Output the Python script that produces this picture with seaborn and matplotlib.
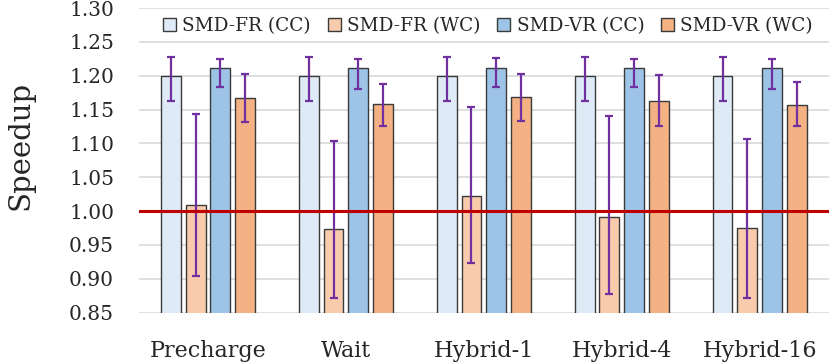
import matplotlib
matplotlib.use("Agg")
import matplotlib.pyplot as plt
import seaborn as sns
import pandas as pd
import numpy as np

categories = ["Precharge", "Wait", "Hybrid-1", "Hybrid-4", "Hybrid-16"]
series = ["SMD-FR (CC)", "SMD-FR (WC)", "SMD-VR (CC)", "SMD-VR (WC)"]

fr_cc = [1.200, 1.200, 1.200, 1.200, 1.200]
fr_wc = [1.009, 0.974, 1.023, 0.992, 0.975]
vr_cc = [1.212, 1.211, 1.212, 1.211, 1.211]
vr_wc = [1.167, 1.158, 1.169, 1.162, 1.157]

fr_cc_hi = [1.227, 1.227, 1.227, 1.227, 1.227]
fr_cc_lo = [1.162, 1.162, 1.162, 1.162, 1.162]
fr_wc_hi = [1.143, 1.104, 1.154, 1.141, 1.107]
fr_wc_lo = [0.904, 0.872, 0.923, 0.878, 0.872]
vr_cc_hi = [1.225, 1.225, 1.226, 1.225, 1.224]
vr_cc_lo = [1.183, 1.181, 1.183, 1.183, 1.180]
vr_wc_hi = [1.203, 1.188, 1.203, 1.201, 1.190]
vr_wc_lo = [1.131, 1.125, 1.133, 1.126, 1.126]

colors = ["#DEEBF7", "#F8CBAD", "#9DC3E6", "#F4B183"]

values = [fr_cc, fr_wc, vr_cc, vr_wc]
highs = [fr_cc_hi, fr_wc_hi, vr_cc_hi, vr_wc_hi]
lows = [fr_cc_lo, fr_wc_lo, vr_cc_lo, vr_wc_lo]

rows = []
for s, vals in zip(series, values):
    for c, v in zip(categories, vals):
        rows.append({"cat": c, "series": s, "val": v})
df = pd.DataFrame(rows)

sns.set_style("white")
plt.rcParams["font.family"] = ["DejaVu Serif"]

fig = plt.figure(figsize=(8.3, 3.64), dpi=100)
ax = fig.add_axes([0.1675, 0.141, 0.831, 0.837])

ax.set_ylim(0.85, 1.30)
ax.set_yticks(np.arange(0.85, 1.3001, 0.05))
ax.yaxis.grid(True, color="#D9D9D9", linewidth=1.2, zorder=0)
ax.set_axisbelow(True)

sns.barplot(data=df, x="cat", y="val", hue="series", order=categories,
            hue_order=series, palette=colors, saturation=1, width=0.72, gap=0.2,
            edgecolor="#3A3A3A", linewidth=1.0, errorbar=None, ax=ax,
            zorder=2)
ax.set_ylim(0.85, 1.30)

bar_containers = list(ax.containers)
for ci, cont in enumerate(bar_containers):
    xs = [p.get_x() + p.get_width() / 2 for p in cont.patches]
    v = np.array(values[ci])
    hi = np.array(highs[ci])
    lo = np.array(lows[ci])
    ax.errorbar(xs, v, yerr=[v - lo, hi - v], fmt="none", ecolor="#7030A0",
                elinewidth=1.6, capsize=2.6, capthick=1.6, zorder=4)

ax.axhline(1.0, color="#C00000", linewidth=2.2, zorder=5)

for sp in ax.spines.values():
    sp.set_visible(False)

ax.set_xlabel("")
ax.set_ylabel("Speedup", fontsize=21)
ax.yaxis.set_label_coords(-0.152, 0.548)
ax.set_yticklabels([f"{t:.2f}" for t in ax.get_yticks()], fontsize=14.5)
ax.tick_params(axis="x", labelsize=16, pad=20, length=0)
ax.tick_params(axis="y", length=0, pad=18)
ax.set_xlim(-0.5, len(categories) - 0.5)

handles, labels = ax.get_legend_handles_labels()
ax.legend(handles, labels, loc="center", bbox_to_anchor=(0.588, 0.9286),
          bbox_transform=fig.transFigure, ncol=4, frameon=False, fontsize=13.3,
          handlelength=0.7, handleheight=0.7, handletextpad=0.35,
          columnspacing=0.9, borderaxespad=0)

fig.savefig("out.png", dpi=100)
